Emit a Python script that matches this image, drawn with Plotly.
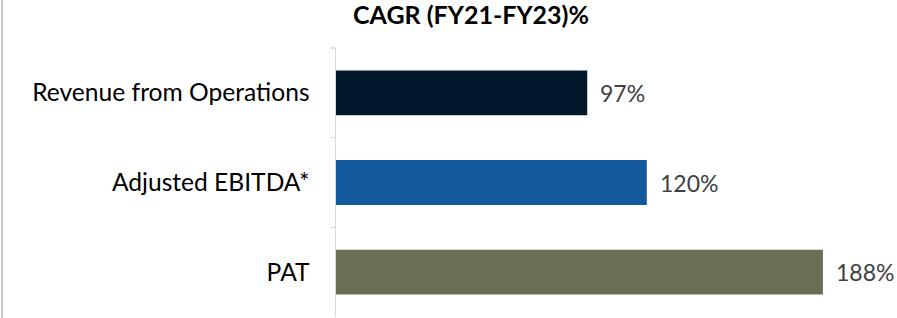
import plotly.graph_objects as go

categories = ["Revenue from Operations", "Adjusted EBITDA*", "PAT"]
values = [97, 120, 188]
value_labels = ["97%", "120%", "188%"]
bar_colors = ["#02182B", "#11599C", "#6A6E55"]
title_text = "CAGR (FY21-FY23)%"

W, H = 897, 318
ml, mr, mt, mb = 336, 43, 48, 1
pw = W - ml - mr
ph = H - mt - mb

fig = go.Figure()
fig.add_trace(go.Bar(
    y=categories, x=values, orientation="h",
    marker=dict(color=bar_colors, line=dict(width=0)),
    width=0.5, hoverinfo="skip",
))

for c, v, t in zip(categories, values, value_labels):
    fig.add_annotation(x=v, y=c, text=t, showarrow=False, xanchor="left",
                       yanchor="middle", xshift=11,
                       font=dict(family="Lato", size=23, color="#404040"))

fig.add_shape(type="line", xref="paper", yref="paper",
              x0=(2 - ml) / pw, x1=(2 - ml) / pw,
              y0=-mb / ph - 0.01, y1=1 + mt / ph + 0.01,
              line=dict(color="#C8C8C8", width=2))

fig.update_layout(
    width=W, height=H,
    margin=dict(l=ml, r=mr, t=mt, b=mb, pad=0),
    paper_bgcolor="white", plot_bgcolor="white",
    showlegend=False,
    title=dict(text="<b>" + title_text + "</b>", x=471 / W, xanchor="center",
               xref="container", y=1 - 6 / H, yref="container", yanchor="top",
               font=dict(family="Lato", size=25, color="#000000")),
    xaxis=dict(range=[0, 200], visible=False, fixedrange=True),
    yaxis=dict(autorange="reversed", showline=True, linecolor="#D9D9D9",
               linewidth=1.5, ticks="outside", tickson="boundaries",
               ticklen=4, tickcolor="#D9D9D9", tickwidth=1.5,
               showgrid=False, ticklabelstandoff=20, fixedrange=True,
               tickfont=dict(family="Lato", size=24.6, color="#000000")),
)

fig.write_html("out.html",
               config={"displayModeBar": False, "staticPlot": True},
               post_script="document.body.style.margin='0';document.body.style.overflow='hidden';")
